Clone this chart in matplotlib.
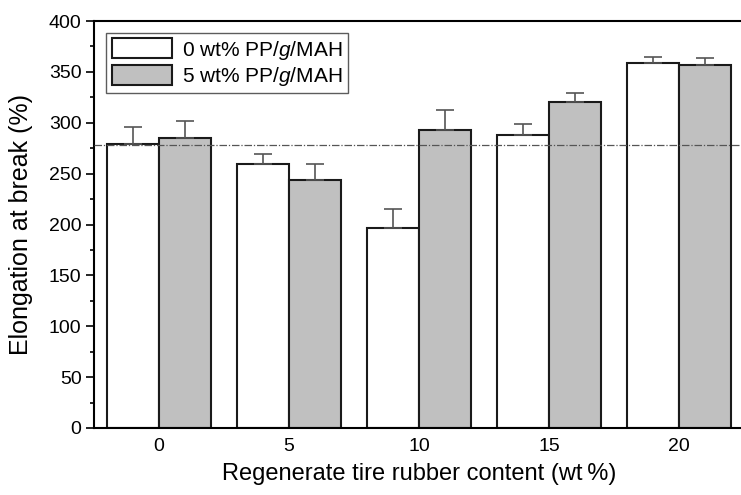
"""
Elongation at break vs regenerate tire rubber content
"""

import matplotlib as mpl
import matplotlib.pyplot as plt
import numpy as np
from matplotlib.ticker import MultipleLocator

mpl.rcParams["font.family"] = ["Liberation Sans", "DejaVu Sans"]
mpl.rcParams["mathtext.fontset"] = "custom"
mpl.rcParams["mathtext.rm"] = "Liberation Sans"
mpl.rcParams["mathtext.it"] = "Liberation Sans:italic"

CONTENT = [0, 5, 10, 15, 20]
ELONG_0 = [279, 259, 197, 288, 359]
ERR_0 = [17, 10, 18, 11, 6]
ELONG_5 = [285, 244, 293, 320, 357]
ERR_5 = [17, 15, 20, 9, 7]
REF_LINE = 278
LABELS = ["0 wt% PP/$\\mathit{g}$/MAH", "5 wt% PP/$\\mathit{g}$/MAH"]

WIDTH = 2.0
EDGE = "#1a1a1a"
ERR_COLOR = "#555555"
GREY = "#c0c0c0"

fig = plt.figure(figsize=(7.41, 4.95), dpi=100)
ax = fig.add_axes([94 / 741, 67 / 495, 650 / 741, 407 / 495])

x = np.array(CONTENT, dtype=float)
err_kw = {"ecolor": ERR_COLOR, "elinewidth": 1.2, "capsize": 6.5, "capthick": 1.2}
ax.bar(x - WIDTH / 2, ELONG_0, WIDTH, color="white", ec=EDGE, lw=1.5,
       yerr=[np.zeros(5), ERR_0], error_kw=err_kw, label=LABELS[0], zorder=2)
ax.bar(x + WIDTH / 2, ELONG_5, WIDTH, color=GREY, ec=EDGE, lw=1.5,
       yerr=[np.zeros(5), ERR_5], error_kw=err_kw, label=LABELS[1], zorder=2)
ax.axhline(REF_LINE, color="#555555", lw=0.9, ls=(0, (6, 1.5, 1, 1.5)), zorder=3)

ax.set_xlim(-2.5, 22.5)
ax.set_ylim(0, 400)
ax.set_xticks(CONTENT)
ax.set_xticklabels([str(c) for c in CONTENT], fontsize=14)
ax.tick_params(axis="x", length=0, pad=7)
ax.yaxis.set_major_locator(MultipleLocator(50))
ax.yaxis.set_minor_locator(MultipleLocator(25))
ax.tick_params(axis="y", which="major", direction="out", length=6, width=1.2, labelsize=14, pad=3)
ax.tick_params(axis="y", which="minor", direction="out", length=3, width=1.2)
ax.spines["right"].set_visible(False)
for s in ["left", "top", "bottom"]:
    ax.spines[s].set_linewidth(1.5)

ax.set_xlabel("Regenerate tire rubber content (wt\u2009%)", fontsize=17, labelpad=6)
ax.set_ylabel("Elongation at break (%)", fontsize=18, labelpad=11)

leg = ax.legend(loc="upper left", bbox_to_anchor=(0.019, 0.97), fontsize=15,
                frameon=True, fancybox=False, edgecolor="#333333",
                handlelength=2.9, handleheight=1.1, handletextpad=0.5,
                borderpad=0.25, labelspacing=0.15, borderaxespad=0)
leg.get_frame().set_linewidth(1.0)

plt.savefig("out.png", dpi=100)
